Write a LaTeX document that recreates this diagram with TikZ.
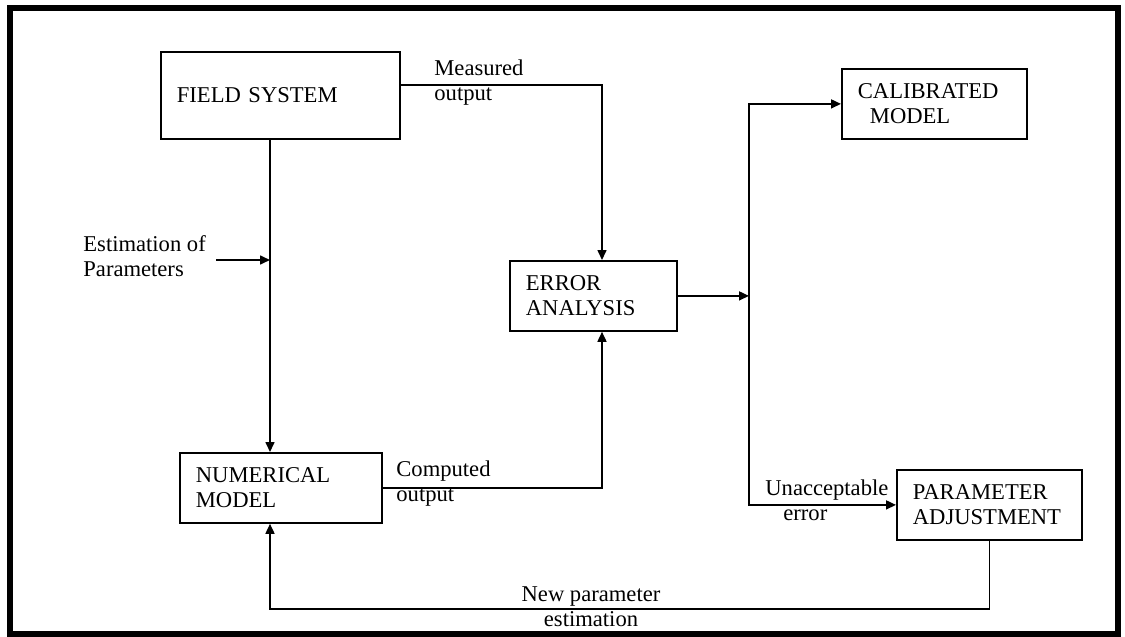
\documentclass[tikz,border=0pt]{standalone}
\usepackage{fontspec}
\setmainfont{Liberation Serif}
\usepackage{tikz}
\usetikzlibrary{arrows.meta}
\tikzset{
    flow-box/.style = {draw, line width=0.9pt, rectangle, anchor=north west, align=left, inner xsep=8pt, inner ysep=0pt, font=\fontsize{11.3}{12.5}\selectfont},
    flow-label/.style = {inner sep=0pt, align=left, font=\fontsize{11.3}{12.5}\selectfont},
    flow-arrow/.style = {line width=0.8pt, -{Triangle[length=5pt, width=4.5pt]}},
    outer-frame/.style = {line width=3pt},
}
\begin{document}
\begin{tikzpicture}[x=0.5pt, y=-0.5pt]
\useasboundingbox (0,0) rectangle (1125,637);
\draw [outer-frame] (10,7.5) rectangle (1118,634);

\node [flow-box, text width=103.5pt, minimum height=43.5pt] (field) at (160,51) {FIELD SYSTEM};
\node [flow-box, text width=85pt, minimum height=35pt] (numerical) at (179,452) {NUMERICAL\\MODEL};
\node [flow-box, text width=67.5pt, minimum height=35pt] (error) at (509,260) {ERROR\\ANALYSIS};
\node [flow-box, text width=76.5pt, minimum height=35pt] (calibrated) at (841,68) {CALIBRATED\\\hspace*{6pt}MODEL};
\node [flow-box, text width=76.5pt, minimum height=35pt] (adjust) at (896,469) {PARAMETER\\ADJUSTMENT};

\coordinate (estimate) at (270,260);
\coordinate (estimate-in) at (216,260);
\coordinate (measured) at (602,85);
\coordinate (computed) at (602,487);
\coordinate (split) at (749,295);
\coordinate (feedback) at (270,609);

\draw [flow-arrow] (field.south -| estimate) -- (numerical.north -| estimate);
\draw [flow-arrow] (estimate-in) -- (estimate);
\draw [flow-arrow] (field.east |- measured) -- (measured) -- (error.north -| measured);
\draw [flow-arrow] (numerical.east) -| (error.south -| computed);
\draw [flow-arrow] (error.east) -- (error.east -| split);
\draw [flow-arrow] (split) |- (calibrated.west);
\draw [flow-arrow] (split) |- (adjust.west);
\draw [flow-arrow] (adjust.south) |- (feedback) -- (numerical.south -| feedback);

\node [flow-label, anchor=west] (estimate-label) at (83,256) {Estimation of\\Parameters};
\node [flow-label, anchor=west] (measured-label) at (434,83) {Measured\\output};
\node [flow-label, anchor=west] (computed-label) at (396,484) {Computed\\output};
\node [flow-label, anchor=west] (error-label) at (765,500) {Unacceptable\\\hspace*{9pt}error};
\node [flow-label, align=center] (feedback-label) at (591,607) {New parameter\\estimation};
\end{tikzpicture}
\end{document}
